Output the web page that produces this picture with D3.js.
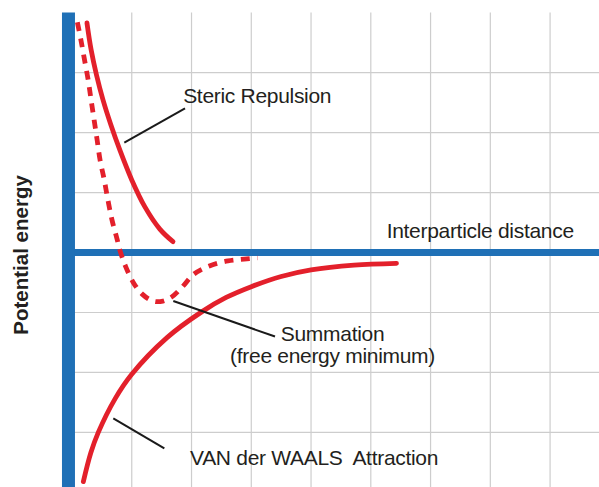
<!DOCTYPE html>
<html>
<head>
<meta charset="utf-8">
<script src="https://cdn.jsdelivr.net/npm/d3@7"></script>
<style>
  html, body { margin: 0; padding: 0; background: #ffffff; }
  svg { display: block; }
  text { font-family: "Liberation Sans", Arial, Helvetica, sans-serif; fill: #231f20; }
</style>
</head>
<body>
<svg id="chart" width="599" height="487"></svg>
<script>
// ---- data (grid units: x = interparticle distance, y = potential energy) ----
const gridXTicks = [1, 2, 3, 4, 5, 6, 7, 8];
const gridYTicks = [-3, -2, -1, 1, 2, 3];

const stericRepulsion = [
  [0.25, 3.83], [0.32, 3.38], [0.41, 2.96], [0.52, 2.54], [0.65, 2.13],
  [0.80, 1.71], [1.00, 1.21], [1.22, 0.76], [1.47, 0.39], [1.69, 0.18]
];

const vanDerWaals = [
  [0.19, -3.82], [0.315, -3.34], [0.44, -3.00], [0.72, -2.44], [1.00, -2.03],
  [1.59, -1.42], [2.17, -0.99], [2.58, -0.75], [3.00, -0.57], [3.50, -0.40],
  [4.00, -0.29], [4.72, -0.21], [5.43, -0.18]
];

const summation = [
  [0.09, 3.84], [0.15, 3.54], [0.21, 3.21], [0.27, 2.88], [0.32, 2.54],
  [0.37, 2.21], [0.42, 1.88], [0.47, 1.54], [0.54, 1.21], [0.60, 0.88],
  [0.67, 0.54], [0.75, 0.24], [0.81, 0.01], [0.90, -0.24], [1.02, -0.49],
  [1.17, -0.69], [1.36, -0.81], [1.52, -0.81], [1.67, -0.74], [1.84, -0.58],
  [2.04, -0.36], [2.31, -0.22], [2.61, -0.14], [2.88, -0.11], [3.11, -0.09]
];

const labels = [
  { text: "Steric Repulsion", x: 1.86, y: 2.485, anchor: "start" },
  { text: "Interparticle distance", x: 5.265, y: 0.237, anchor: "start" },
  { text: "Summation", x: 4.36, y: -1.471, anchor: "middle" },
  { text: "(free energy minimum)", x: 4.36, y: -1.843, anchor: "middle" },
  { text: "VAN der WAALS\u00a0 Attraction", x: 1.975, y: -3.538, anchor: "start" }
];

const leaders = [
  [[0.875, 1.831], [1.891, 2.405]],
  [[1.695, -0.809], [3.397, -1.401]],
  [[0.691, -2.765], [1.545, -3.265]]
];

const yAxisTitle = "Potential energy";

// ---- scales ----
const W = 599, H = 487;
const x = d3.scaleLinear().domain([0, 8]).range([72, 72 + 8 * 59.76]);
const y = d3.scaleLinear().domain([0, 4]).range([252.5, 12.6]);
const xAxisPos = -0.059;   // vertical axis centre in x units
const yTop = 4, yBottom = y.invert(H), xRight = x.invert(W);

const svg = d3.select("#chart");

// ---- grid ----
const grid = svg.append("g").attr("stroke", "#cdcdcd").attr("stroke-width", 1.2);
grid.selectAll("line.v").data(gridXTicks).join("line")
  .attr("class", "v")
  .attr("x1", d => x(d)).attr("x2", d => x(d))
  .attr("y1", y(yTop)).attr("y2", y(yBottom));
grid.selectAll("line.h").data(gridYTicks).join("line")
  .attr("class", "h")
  .attr("x1", x(0)).attr("x2", x(xRight))
  .attr("y1", d => y(d)).attr("y2", d => y(d));

// ---- axes ----
const blue = "#1f70b6";
svg.append("line")
  .attr("x1", x(0)).attr("x2", x(xRight))
  .attr("y1", y(0)).attr("y2", y(0))
  .attr("stroke", blue).attr("stroke-width", 7);
svg.append("line")
  .attr("x1", x(xAxisPos)).attr("x2", x(xAxisPos))
  .attr("y1", y(yTop)).attr("y2", y(yBottom))
  .attr("stroke", blue).attr("stroke-width", 13);

// ---- curves ----
const red = "#e3202b";
const line = d3.line().x(d => x(d[0])).y(d => y(d[1])).curve(d3.curveCatmullRom.alpha(0.5));

svg.append("path").datum(summation)
  .attr("d", line).attr("fill", "none")
  .attr("stroke", red).attr("stroke-width", 4.8)
  .attr("stroke-dasharray", "9 7.5");

[stericRepulsion, vanDerWaals].forEach(s => {
  svg.append("path").datum(s)
    .attr("d", line).attr("fill", "none")
    .attr("stroke", red).attr("stroke-width", 4.8)
    .attr("stroke-linecap", "round");
});

// ---- leader lines ----
svg.selectAll("line.leader").data(leaders).join("line")
  .attr("class", "leader")
  .attr("x1", d => x(d[0][0])).attr("y1", d => y(d[0][1]))
  .attr("x2", d => x(d[1][0])).attr("y2", d => y(d[1][1]))
  .attr("stroke", "#1a1a1a").attr("stroke-width", 2);

// ---- labels ----
svg.selectAll("text.lbl").data(labels).join("text")
  .attr("class", "lbl")
  .attr("x", d => x(d.x)).attr("y", d => y(d.y))
  .attr("text-anchor", d => d.anchor)
  .attr("font-size", 21)
  .attr("letter-spacing", -0.3)
  .text(d => d.text);

svg.append("text")
  .attr("transform", `translate(28,${y(-0.04)}) rotate(-90)`)
  .attr("text-anchor", "middle")
  .attr("font-size", 20.5)
  .attr("font-weight", "bold")
  .text(yAxisTitle);
</script>
</body>
</html>
